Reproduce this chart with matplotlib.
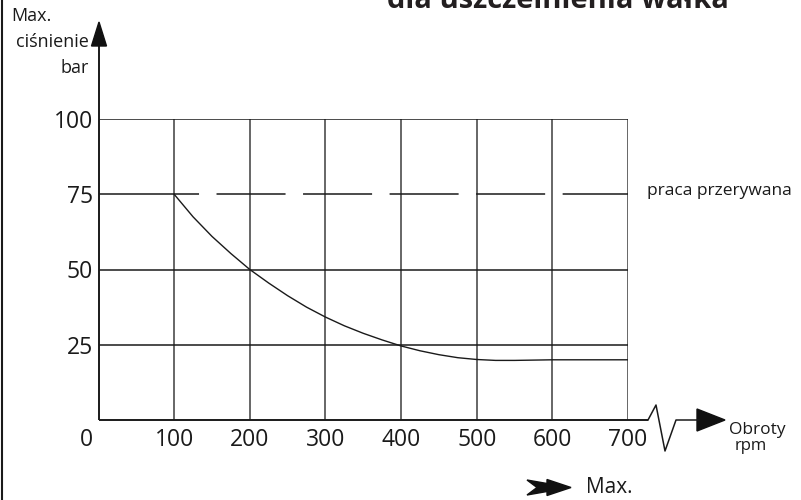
import matplotlib
matplotlib.use('Agg')
import matplotlib.pyplot as plt
from matplotlib.patches import Polygon
from matplotlib.lines import Line2D
from matplotlib.transforms import ScaledTranslation

plt.rcParams['font.family'] = ['Open Sans', 'DejaVu Sans']
plt.rcParams['lines.scale_dashes'] = False

# ---- data ----
x_ticks = [0, 100, 200, 300, 400, 500, 600, 700]
x_tick_labels = ['0', '100', '200', '300', '400', '500', '600', '700']
y_ticks = [25, 50, 75, 100]
y_tick_labels = ['25', '50', '75', '100']
grid_x = [100, 200, 300, 400, 500, 600, 700]
grid_y_solid = [25, 50, 100]
limit_y = 75                      # intermittent operation line
limit_label = 'praca przerywana'
curve_rpm = [100, 125, 150, 175, 200, 225, 250, 275, 300, 325, 350, 375, 400,
             425, 450, 475, 500, 525, 550, 575, 600, 700]
curve_bar = [75, 67.5, 61, 55.3, 50, 45.5, 41.3, 37.5, 34.2, 31.3, 28.8, 26.6, 24.6,
             23.0, 21.7, 20.7, 20.1, 19.8, 19.8, 19.9, 20, 20]
title = 'dla uszczelnienia wałka'

W, H = 801, 500
fig = plt.figure(figsize=(W / 100, H / 100), dpi=100)

def fx(x):
    return x / W

def fy(y):
    return 1 - y / H

ax = fig.add_axes([98.5 / W, 80 / H, 529.5 / W, 301 / H])
ax.set_xlim(0, 700)
ax.set_ylim(0, 100)
for s in ax.spines.values():
    s.set_visible(False)
ax.patch.set_alpha(0)

# grid
for gx in grid_x:
    ax.plot([gx, gx], [0, 100], color='#5a5a5a', lw=1.3, solid_capstyle='butt')
for gy in grid_y_solid:
    ax.plot([0, 700], [gy, gy], color='#1a1a1a', lw=1.1, solid_capstyle='butt')

# dashed limit line
ax.plot([0, 41], [limit_y, limit_y], color='#1a1a1a', lw=1.1, solid_capstyle='butt')
ax.plot([41, 700], [limit_y, limit_y], color='#1a1a1a', lw=1.1,
        dashes=(49.7, 12.6), dash_capstyle='butt')

# curve
ax.plot(curve_rpm, curve_bar, color='#1a1a1a', lw=1.0)

# axes lines
ax.plot([0, 726], [0, 0], color='#1a1a1a', lw=1.4, clip_on=False, solid_capstyle='butt')
ax.plot([0, 0], [0, 124.6], color='#1a1a1a', lw=1.4, clip_on=False, solid_capstyle='butt')

# ticks
ax.set_xticks(x_ticks)
ax.set_xticklabels(x_tick_labels)
ax.set_yticks(y_ticks)
ax.set_yticklabels(y_tick_labels)
ax.tick_params(axis='both', length=0, labelsize=16.5, colors='#1a1a1a')
ax.tick_params(axis='x', pad=6)
ax.tick_params(axis='y', pad=4)
lbl0 = ax.get_xticklabels()[0]
lbl0.set_ha('right')
lbl0.set_transform(lbl0.get_transform() + ScaledTranslation(-4 / 72, 0, fig.dpi_scale_trans))

# y-axis arrow head
fig.patches.append(Polygon([(fx(99), fy(22)), (fx(91.5), fy(46)), (fx(106.5), fy(46))],
                           closed=True, transform=fig.transFigure, color='#111111'))
# x-axis break zigzag and continuation
zx = [648, 656, 665, 676, 699]
zy = [420, 405, 451, 420, 420]
fig.add_artist(Line2D([fx(v) for v in zx], [fy(v) for v in zy], transform=fig.transFigure,
                      color='#1a1a1a', lw=1.1))
fig.patches.append(Polygon([(fx(697), fy(409)), (fx(725), fy(420)), (fx(697), fy(431))],
                           closed=True, transform=fig.transFigure, color='#111111'))

# bottom arrow (Max.)
arr = [(527, 480), (547, 483.5), (547, 479.5), (571, 487.5), (547, 495.5),
       (547, 491.5), (527, 495), (537, 487.5)]
fig.patches.append(Polygon([(fx(a), fy(b)) for a, b in arr], closed=True,
                           transform=fig.transFigure, color='#111111'))

tc = '#1a1a1a'
fig.text(fx(586), fy(493), 'Max.', fontsize=15, color=tc, ha='left', va='baseline')

# axis labels
fig.text(fx(11), fy(21), 'Max.', fontsize=13, color=tc, ha='left', va='baseline')
fig.text(fx(89), fy(47), 'ciśnienie', fontsize=13, color=tc, ha='right', va='baseline')
fig.text(fx(89), fy(73), 'bar', fontsize=13, color=tc, ha='right', va='baseline')
fig.text(fx(729), fy(434), 'Obroty', fontsize=12.5, color=tc, ha='left', va='baseline')
fig.text(fx(735), fy(450), 'rpm', fontsize=12, color=tc, ha='left', va='baseline')
fig.text(fx(647), fy(195), limit_label, fontsize=12.5, color=tc, ha='left', va='baseline')

# title (cut off at top)
fig.text(fx(387), fy(8), title, fontsize=21, fontweight='bold', color='#231f20',
         ha='left', va='baseline')

# left frame line
fig.add_artist(Line2D([fx(1.5), fx(1.5)], [0, 1], transform=fig.transFigure,
                      color='#1a1a1a', lw=1.5))

fig.savefig('out.png', dpi=100)
